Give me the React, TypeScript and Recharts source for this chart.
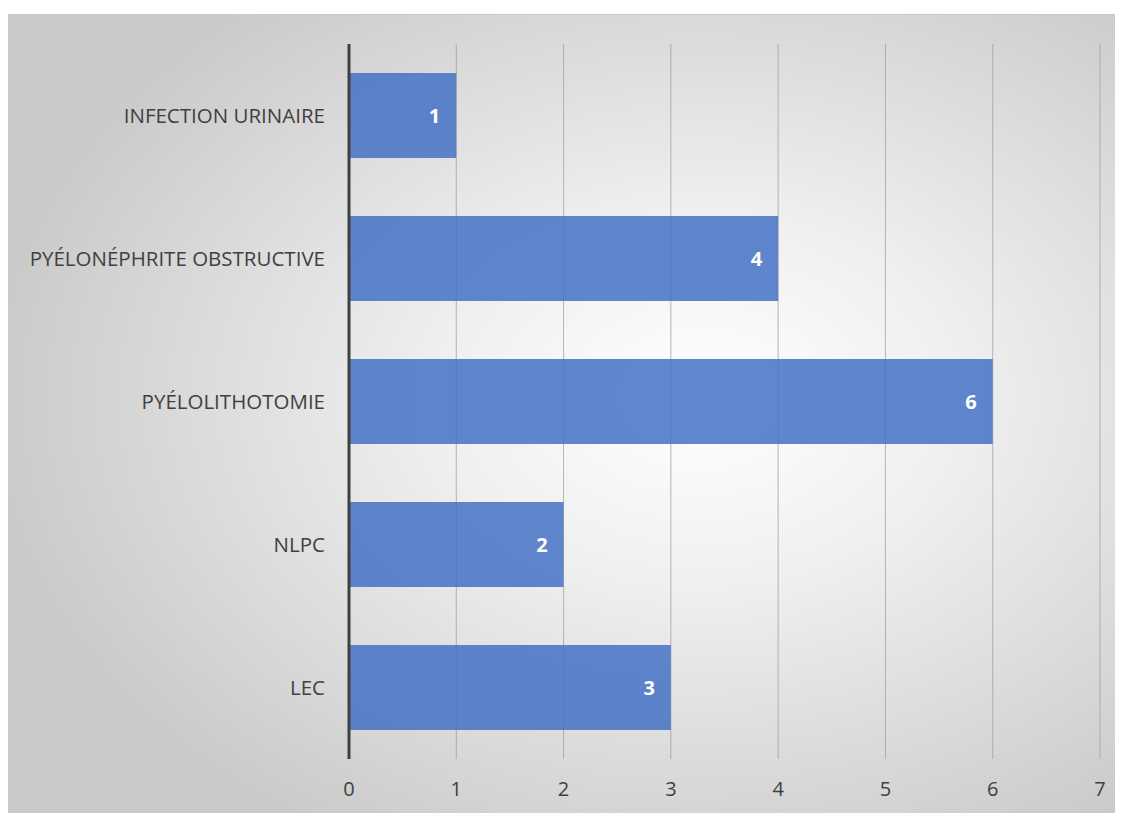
import { BarChart, Bar, XAxis, YAxis, CartesianGrid, LabelList, ReferenceLine } from "recharts"

const categories = ["INFECTION URINAIRE", "PYÉLONÉPHRITE OBSTRUCTIVE", "PYÉLOLITHOTOMIE", "NLPC", "LEC"]
const values = [1, 4, 6, 2, 3]
const xTicks = [0, 1, 2, 3, 4, 5, 6, 7]

const data = categories.map((c, i) => ({ name: c, value: values[i] }))

const font = "'Open Sans', 'Liberation Sans', sans-serif"

export default function App() {
    return (
        <div
            style={{
                marginTop: 6,
                width: 1115,
                height: 799,
                background: "radial-gradient(ellipse 65% 65% at 62% 48%, #ffffff 0%, #f0f0f0 35%, #c9c9c9 100%)",
                borderTop: "1px solid #c8c8c8",
                fontFamily: font,
            }}
        >
            <BarChart
                width={1115}
                height={798}
                data={data}
                layout="vertical"
                margin={{ top: 29, right: 23, left: 0, bottom: 0 }}
            >
                <CartesianGrid horizontal={false} stroke="#9a9a9a" strokeOpacity={0.7} />
                <XAxis
                    type="number"
                    domain={[0, 7]}
                    ticks={xTicks}
                    height={54}
                    axisLine={false}
                    tickLine={false}
                    tick={{ fill: "#404040", fontSize: 20, fontFamily: font }}
                    tickMargin={17}
                />
                <YAxis
                    type="category"
                    dataKey="name"
                    width={341}
                    axisLine={false}
                    tickLine={false}
                    tick={{ fill: "#404040", fontSize: 20.5, fontFamily: font }}
                    tickMargin={18}
                />
                <Bar dataKey="value" fill="#4472c4" fillOpacity={0.85} barSize={85} isAnimationActive={false}>
                    <LabelList
                        dataKey="value"
                        position="insideRight"
                        offset={16}
                        fill="#ffffff"
                        fontSize={20}
                        fontWeight="bold"
                        fontFamily={font}
                    />
                </Bar>
                <ReferenceLine x={0} stroke="#404040" strokeWidth={3} />
            </BarChart>
        </div>
    )
}
